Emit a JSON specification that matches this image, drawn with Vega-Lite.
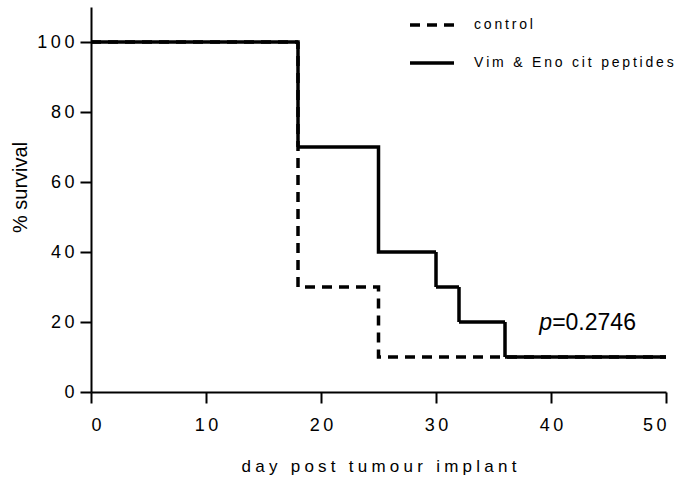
{
  "$schema": "https://vega.github.io/schema/vega-lite/v6.json",
  "width": 575,
  "height": 385,
  "autosize": {"type": "none"},
  "padding": {"left": 91, "top": 7, "right": 13, "bottom": 91},
  "background": "white",
  "config": {
    "view": {"stroke": null},
    "font": "Liberation Sans",
    "axis": {
      "domainColor": "black", "domainWidth": 2, "tickColor": "black", "tickWidth": 2,
      "tickSize": 11, "grid": false, "labelColor": "black", "labelFont": "Liberation Sans",
      "labelFontSize": 18, "titleFont": "Liberation Sans", "titleFontSize": 17,
      "titleFontWeight": "normal", "titleColor": "black",
      "labelExpr": "join(split(datum.label, ''), '\u2009')"
    }
  },
  "datasets": {
    "curves": [
      {"series": "control", "day": 0, "survival": 100},
      {"series": "control", "day": 18, "survival": 30},
      {"series": "control", "day": 25, "survival": 10},
      {"series": "control", "day": 50, "survival": 10},
      {"series": "Vim & Eno cit peptides", "day": 0, "survival": 100},
      {"series": "Vim & Eno cit peptides", "day": 18, "survival": 70},
      {"series": "Vim & Eno cit peptides", "day": 25, "survival": 40},
      {"series": "Vim & Eno cit peptides", "day": 30, "survival": 30},
      {"series": "Vim & Eno cit peptides", "day": 32, "survival": 20},
      {"series": "Vim & Eno cit peptides", "day": 36, "survival": 10},
      {"series": "Vim & Eno cit peptides", "day": 50, "survival": 10}
    ],
    "pval": [
      {"day": 40.1, "survival": 17.7, "p": "p", "rest": "=0.2746"}
    ]
  },
  "layer": [
    {
      "data": {"name": "curves"},
      "mark": {"type": "line", "interpolate": "step-after", "color": "black", "strokeWidth": 3.5, "clip": false},
      "encoding": {
        "x": {
          "field": "day", "type": "quantitative",
          "scale": {"domain": [0, 50], "nice": false, "zero": false},
          "axis": {"values": [0, 10, 20, 30, 40, 50], "title": "d\u2005a\u2005y\u2005\u00a0\u2005p\u2005o\u2005s\u2005t\u2005\u00a0\u2005t\u2005u\u2005m\u2005o\u2005u\u2005r\u2005\u00a0\u2005i\u2005m\u2005p\u2005l\u2005a\u2005n\u2005t", "labelPadding": 13, "titlePadding": 24}
        },
        "y": {
          "field": "survival", "type": "quantitative",
          "scale": {"domain": [0, 110], "nice": false},
          "axis": {"values": [0, 20, 40, 60, 80, 100], "title": "% survival", "titleFontSize": 20, "titleY": 180, "labelPadding": 6, "titlePadding": 6}
        },
        "strokeDash": {
          "field": "series", "type": "nominal",
          "scale": {"domain": ["control", "Vim & Eno cit peptides"], "range": [[10, 7], [1, 0]]},
          "legend": {
            "title": null, "orient": "none", "legendX": 317, "legendY": -6,
            "symbolType": "stroke", "symbolSize": 1936, "symbolStrokeWidth": 3.5,
            "symbolStrokeColor": "black", "labelFontSize": 14, "labelColor": "black",
            "labelOffset": 18, "rowPadding": 7, "labelFont": "Liberation Sans",
            "labelLimit": 400,
            "labelExpr": "join(split(datum.label, ''), '\u2009')"
          }
        }
      }
    },
    {
      "data": {"name": "pval"},
      "mark": {"type": "text", "align": "right", "baseline": "alphabetic", "font": "Liberation Sans", "fontStyle": "italic", "fontSize": 23, "color": "black"},
      "encoding": {
        "x": {"field": "day", "type": "quantitative"},
        "y": {"field": "survival", "type": "quantitative"},
        "text": {"field": "p"}
      }
    },
    {
      "data": {"name": "pval"},
      "mark": {"type": "text", "align": "left", "baseline": "alphabetic", "font": "Liberation Sans", "fontSize": 23, "color": "black"},
      "encoding": {
        "x": {"field": "day", "type": "quantitative"},
        "y": {"field": "survival", "type": "quantitative"},
        "text": {"field": "rest"}
      }
    }
  ]
}
